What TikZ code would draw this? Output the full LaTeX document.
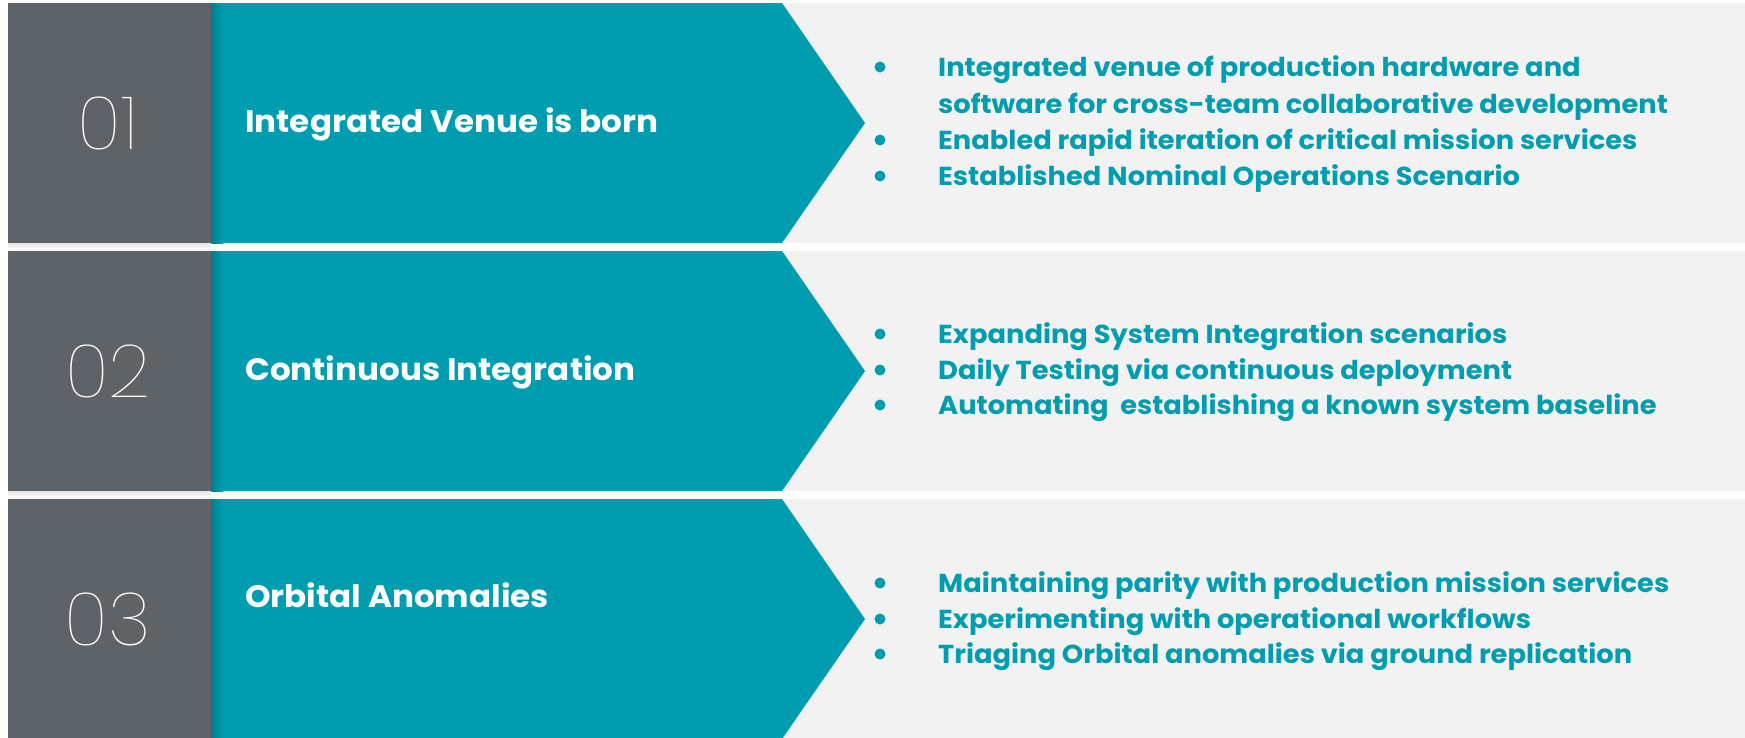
\documentclass[tikz,border=0pt]{standalone}
\usepackage{fontspec}
\setmainfont{Poppins}[FakeStretch=1.05]
\IfFontExistsTF{Poppins Thin}{\newfontfamily\numfont{Poppins Thin}}{\newfontfamily\numfont{Poppins}}
\usepackage{tikz}
\usetikzlibrary{positioning}
\definecolor{venueteal}{RGB}{0,157,176}
\definecolor{venuegray}{RGB}{94,99,103}
\definecolor{venuelight}{RGB}{242,242,242}
\tikzset{
  band/.style={fill=venuelight},
  numbox/.style={fill=venuegray},
  chevron/.style={fill=venueteal},
  numlabel/.style={text=white, inner sep=0pt, font=\numfont\fontsize{74}{74}\selectfont},
  title/.style={text=white, anchor=mid west, inner sep=0pt, yshift=-8pt, font=\bfseries\fontsize{31}{33}\selectfont},
  item/.style={text=venueteal, anchor=mid west, inner sep=0pt, yshift=-7pt, font=\bfseries\fontsize{26}{28}\selectfont},
  dot/.style={circle, fill=venueteal, minimum size=11pt, inner sep=0pt}
}

\begin{document}
\begin{tikzpicture}[x=1pt, y=-1pt]
  \useasboundingbox[fill=white] (0,0) rectangle (1745,737);

  % three bands: light strip, grey number box, teal chevron
  \foreach \ya/\yb in {3/243, 251/491, 499/739} {
    \fill[band] (700,\ya) rectangle (1745,\yb);
    \fill[chevron] (211,\ya) -- (782,\ya) -- (865,{(\ya+\yb)/2}) -- (782,\yb) -- (211,\yb) -- cycle;
    \shade[left color=black!20!venueteal, right color=venueteal] (211,\ya) rectangle (223,\yb);
    \fill[numbox] (8,\ya) rectangle (211,\yb);
    \shade[top color=black!10, bottom color=white] (8,\yb) rectangle (211,{\yb+7});
  }

  % numbers
  \node[numlabel] (num1) at (108,123) {01};
  \node[numlabel] (num2) at (108,371) {02};
  \node[numlabel] (num3) at (108,619) {03};

  % titles
  \node[title] (title1) at (245,122) {Integrated Venue is born};
  \node[title] (title2) at (245,370) {Continuous Integration};
  \node[title] (title3) at (245,597) {Orbital Anomalies};

  % first band items
  \node[dot] (d11) at (880,67) {};
  \node[item] (t11) at (938,67) {Integrated venue of production hardware and};
  \node[item] (t12) at (938,103.5) {software for cross-team collaborative development};
  \node[dot] (d12) at (880,140) {};
  \node[item] (t13) at (938,140) {Enabled rapid iteration of critical mission services};
  \node[dot] (d13) at (880,176) {};
  \node[item] (t14) at (938,176) {Established Nominal Operations Scenario};

  % second band items
  \node[dot] (d21) at (880,334) {};
  \node[item] (t21) at (938,334) {Expanding System Integration scenarios};
  \node[dot] (d22) at (880,370) {};
  \node[item] (t22) at (938,370) {Daily Testing via continuous deployment};
  \node[dot] (d23) at (880,405) {};
  \node[item] (t23) at (938,405) {Automating\ \ establishing a known system baseline};

  % third band items
  \node[dot] (d31) at (880,583) {};
  \node[item] (t31) at (938,583) {Maintaining parity with production mission services};
  \node[dot] (d32) at (880,619) {};
  \node[item] (t32) at (938,619) {Experimenting with operational workflows};
  \node[dot] (d33) at (880,654) {};
  \node[item] (t33) at (938,654) {Triaging Orbital anomalies via ground replication};
\end{tikzpicture}
\end{document}
